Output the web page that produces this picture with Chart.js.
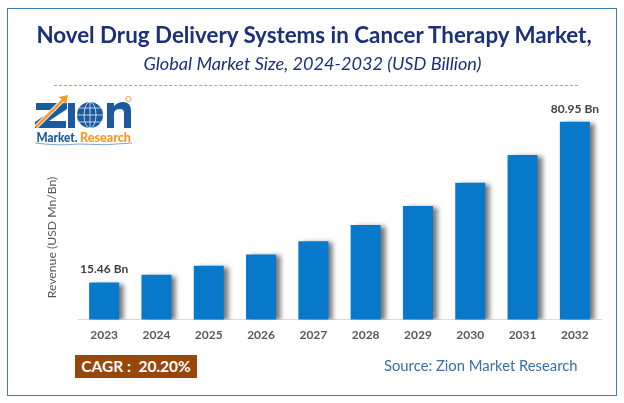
<!DOCTYPE html>
<html><head><meta charset="utf-8">
<script src="https://cdn.jsdelivr.net/npm/chart.js@4"></script>
<style>
html,body{margin:0;padding:0;background:#fff;width:624px;height:403px;overflow:hidden}
#wrap{position:absolute;left:0;top:0;width:624px;height:403px}
canvas{position:absolute;left:0;top:0}
.t{position:absolute;white-space:nowrap;font-family:Lato,sans-serif}
#frame{position:absolute;left:7px;top:8px;width:608px;height:386px;border:1.5px solid #3d7ebb;box-sizing:content-box}
#title{left:0;width:628px;top:20px;text-align:center;font-weight:700;font-size:22.35px;color:#1c2f78;line-height:30px}
#sub{left:0;width:625px;top:50px;text-align:center;font-style:italic;font-size:18.15px;color:#1c2f78;line-height:26px}
#dash{position:absolute;left:54px;top:84.5px;width:524px;border-top:1px dashed #8fa9d8}
#cagr{left:75px;top:355px;width:122px;height:23px;background:#97470a;color:#fff;font-weight:700;font-size:15.5px;line-height:23px;text-align:center}
#src{left:384px;top:354px;font-size:14.8px;color:#3a6ea5;line-height:22px}
</style></head><body>
<div id="wrap">
<canvas id="c" width="624" height="403"></canvas>
<div id="frame"></div>
<div class="t" id="title">Novel Drug Delivery Systems in Cancer Therapy Market,</div>
<div class="t" id="sub">Global Market Size, 2024-2032 (USD Billion)</div>
<div id="dash"></div>
<svg style="position:absolute;left:30px;top:90px" width="110" height="60" viewBox="0 0 110 60">
  <path d="M6 13H37V19L19 31H36V38H5V32L23 20H6Z" fill="#1b5a9e"/>
  <path d="M6 37 L34 9" stroke="#fff" stroke-width="4.5"/>
  <path d="M6 37 L34 9" stroke="#f39a26" stroke-width="2.5"/><path d="M29 7 L38 5 L36 14 Z" fill="#f39a26"/>
  <rect x="38" y="13" width="7" height="25" fill="#1b5a9e"/>
  <circle cx="60" cy="25" r="13" fill="#1b5a9e"/>
  <ellipse cx="60" cy="25" rx="6" ry="13" fill="none" stroke="#fff" stroke-width=".7"/>
  <path d="M47 25H73M49 18H71M49 32H71M60 12V38" stroke="#fff" stroke-width=".7"/>
  <path d="M77 38V13h7v3q4-4 9-4q8 0 8 9v17h-7v-15q0-4-4-4q-6 0-6 5v14z" fill="#1b5a9e"/>
  <circle cx="98.5" cy="9" r="2.6" fill="none" stroke="#f39a26" stroke-width=".9"/>
  <text x="6.5" y="52" font-family="Lato" font-weight="900" font-size="12.5" fill="#1b5a9e" textLength="41" lengthAdjust="spacingAndGlyphs">Market.</text>
  <text x="50" y="52" font-family="Lato" font-weight="900" font-size="12.5" fill="#f39a26" textLength="51" lengthAdjust="spacingAndGlyphs">Research</text>
  <path d="M5 53 Q28 56 48 54 Q75 56 102 53" fill="none" stroke="#5b8fc7" stroke-width=".8"/>
</svg>
<div class="t" id="cagr">CAGR :&nbsp; 20.20%</div>
<div class="t" id="src">Source: Zion Market Research</div>
</div>
<script>
const years = ['2023','2024','2025','2026','2027','2028','2029','2030','2031','2032'];
const revenue = [15.46,18.6,22.3,26.9,32.3,38.9,46.7,56.1,67.4,80.95];
const shownLabels = {0:'15.46 Bn',9:'80.95 Bn'};
const yAxisTitle = 'Revenue (USD Mn/Bn)';

const shadow = {
  id:'shadow',
  beforeDatasetDraw(ch){const x=ch.ctx;x.save();x.shadowColor='rgba(70,70,70,.75)';x.shadowBlur=5;x.shadowOffsetX=5;x.shadowOffsetY=1;},
  afterDatasetDraw(ch){ch.ctx.restore();}
};
const extras = {
  id:'extras',
  afterDatasetsDraw(ch){
    const x=ch.ctx, bars=ch.getDatasetMeta(0).data;
    x.save();
    x.font='700 12px Lato';x.fillStyle='#404040';x.textAlign='center';x.textBaseline='middle';
    Object.entries(shownLabels).forEach(([i,s])=>{const b=bars[i];x.fillText(s,b.x,b.y-13);});
    x.restore();
    x.save();
    x.translate(52,237.5);x.rotate(-Math.PI/2);
    x.font='12.2px Lato';x.fillStyle='#595959';x.textAlign='center';x.textBaseline='middle';
    x.fillText(yAxisTitle,0,0);
    x.restore();
  }
};
new Chart(document.getElementById('c'),{
  type:'bar',
  data:{labels:years,datasets:[{data:revenue,backgroundColor:'#0878ca',categoryPercentage:1,barPercentage:0.574}]},
  plugins:[shadow,extras],
  options:{
    responsive:false,animation:false,devicePixelRatio:1,
    layout:{padding:{top:100,right:23,left:0,bottom:0}},
    plugins:{legend:{display:false},title:{display:false},tooltip:{enabled:false}},
    scales:{
      x:{grid:{display:false,drawTicks:false},border:{display:true,color:'#d9d9d9',width:1},
         ticks:{color:'#595959',font:{family:'Lato',weight:'700',size:12},padding:8,maxRotation:0,autoSkip:false},
         afterFit(a){a.height=83.5;}},
      y:{min:0.4,max:89.85,display:true,grid:{display:false,drawTicks:false},border:{display:false},ticks:{display:false},
         afterFit(a){a.width=78;}}
    }
  }
});
</script>
</body></html>
